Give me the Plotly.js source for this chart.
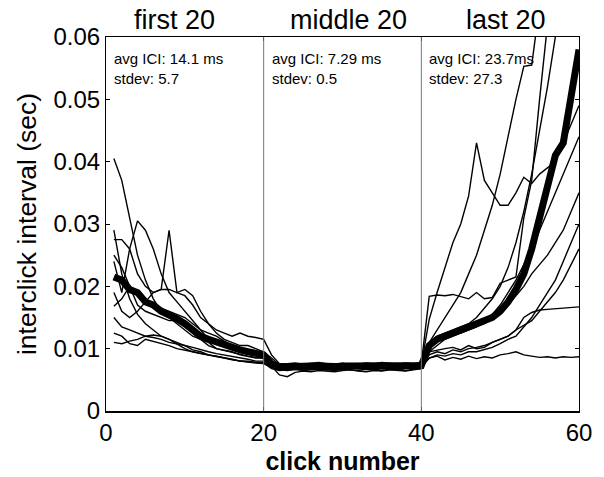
<!DOCTYPE html>
<html>
<head>
<meta charset="utf-8">
<script src="https://cdn.plot.ly/plotly-3.0.1.min.js"></script>
<style>html,body{margin:0;padding:0;background:#fff;}#chart{width:604px;height:477px;}</style>
</head>
<body>
<div id="chart"></div>
<script>
// click numbers 1..60
var clicks = [];
for (var i = 1; i <= 60; i++) clicks.push(i);

var s1 = [0.0405,0.037,0.031,0.025,0.021,0.018,0.016,0.015,0.014,0.013,0.012,0.0115,0.011,0.010,0.0098,0.0095,0.009,0.0088,0.0085,0.0085,
          0.0075,0.0068,0.0070,0.0071,0.0069,0.0070,0.0072,0.0071,0.0070,0.0069,0.0071,0.0072,0.0070,0.0071,0.0069,0.0070,0.0071,0.0070,0.0072,0.0073,
          0.011,0.013,0.015,0.017,0.019,0.022,0.025,0.029,0.033,0.038,0.044,0.050,0.0553,0.0555,0.065,0.070,0.075,0.080,0.085,0.090];
var s2 = [0.029,0.022,0.018,0.0155,0.014,0.013,0.012,0.0115,0.0108,0.010,0.0095,0.0092,0.009,0.0088,0.0085,0.0083,0.008,0.008,0.0078,0.0078,
          0.0070,0.0066,0.0065,0.0067,0.0066,0.0068,0.0067,0.0066,0.0068,0.0067,0.0069,0.0068,0.0067,0.0066,0.0068,0.0067,0.0066,0.0068,0.0069,0.0070,
          0.0085,0.0088,0.0082,0.0086,0.0083,0.0088,0.0084,0.0087,0.0085,0.009,0.0092,0.0095,0.009,0.0088,0.0086,0.0087,0.0085,0.0087,0.0086,0.0087];
var s3 = [0.024,0.019,0.026,0.0305,0.029,0.026,0.022,0.019,0.0175,0.016,0.0145,0.013,0.0115,0.011,0.0105,0.0103,0.010,0.0098,0.0095,0.009,
          0.0078,0.0072,0.0070,0.0073,0.0071,0.0072,0.0070,0.0074,0.0072,0.0071,0.0073,0.0072,0.0070,0.0074,0.0072,0.0071,0.0073,0.0072,0.0071,0.0075,
          0.0147,0.019,0.023,0.027,0.030,0.0345,0.043,0.037,0.035,0.033,0.033,0.035,0.0375,0.0365,0.038,0.039,0.040,0.043,0.046,0.049];
var s4 = [0.0275,0.0275,0.026,0.022,0.020,0.019,0.0195,0.029,0.019,0.0195,0.0185,0.016,0.014,0.0125,0.0115,0.011,0.0105,0.0105,0.010,0.0095,
          0.0085,0.0074,0.0072,0.0075,0.0073,0.0074,0.0076,0.0074,0.0073,0.0075,0.0074,0.0076,0.0073,0.0074,0.0077,0.0074,0.0073,0.0075,0.0074,0.0076,
          0.0184,0.0186,0.0185,0.0187,0.0183,0.018,0.019,0.018,0.0182,0.0205,0.021,0.0215,0.031,0.037,0.050,0.062,0.070,0.075,0.080,0.085];
var s5 = [0.025,0.023,0.020,0.017,0.016,0.0155,0.015,0.0145,0.0145,0.014,0.0125,0.0115,0.0105,0.010,0.0097,0.0093,0.009,0.0088,0.0086,0.0085,
          0.0072,0.0058,0.0055,0.0062,0.0064,0.0063,0.0065,0.0064,0.0063,0.0065,0.0066,0.0064,0.0063,0.0065,0.0064,0.0066,0.0065,0.0064,0.0066,0.0068,
          0.0095,0.0098,0.010,0.0102,0.0098,0.0105,0.010,0.0102,0.011,0.0115,0.012,0.013,0.015,0.0158,0.0162,0.0163,0.0164,0.0165,0.0166,0.0167];
var s6 = [0.011,0.0108,0.0112,0.0115,0.012,0.0122,0.012,0.0115,0.011,0.0105,0.0098,0.0095,0.009,0.0088,0.0085,0.0083,0.008,0.0078,0.0077,0.0076,
          0.0070,0.0067,0.0068,0.0069,0.0068,0.0070,0.0069,0.0068,0.0070,0.0069,0.0070,0.0069,0.0068,0.0070,0.0069,0.0068,0.0070,0.0069,0.0070,0.0071,
          0.0085,0.009,0.0088,0.0092,0.009,0.0095,0.0095,0.0098,0.0102,0.0108,0.0115,0.012,0.0135,0.015,0.017,0.019,0.021,0.024,0.027,0.030];
var s7 = [0.015,0.0135,0.013,0.0125,0.012,0.0118,0.0115,0.011,0.0108,0.0105,0.0102,0.0098,0.0095,0.0092,0.009,0.0088,0.0085,0.0083,0.008,0.008,
          0.0074,0.0071,0.0073,0.0072,0.0074,0.0073,0.0071,0.0073,0.0075,0.0072,0.0073,0.0074,0.0072,0.0073,0.0071,0.0074,0.0073,0.0072,0.0074,0.0076,
          0.010,0.0115,0.012,0.0128,0.0125,0.013,0.0135,0.014,0.015,0.016,0.017,0.0185,0.020,0.022,0.0235,0.025,0.027,0.029,0.032,0.035];
var s8 = [0.0168,0.018,0.020,0.019,0.0175,0.017,0.0165,0.016,0.0155,0.015,0.014,0.013,0.0125,0.012,0.0112,0.0105,0.010,0.0098,0.0095,0.0093,
          0.0080,0.0075,0.0076,0.0077,0.0075,0.0076,0.0078,0.0076,0.0075,0.0077,0.0076,0.0075,0.0077,0.0076,0.0078,0.0076,0.0075,0.0077,0.0076,0.0078,
          0.0095,0.0105,0.0115,0.012,0.0125,0.013,0.0135,0.0145,0.0155,0.017,0.019,0.021,0.0235,0.026,0.029,0.032,0.035,0.038,0.041,0.044];
var s9 = [0.019,0.016,0.015,0.016,0.0175,0.019,0.0195,0.0195,0.019,0.0185,0.017,0.015,0.014,0.013,0.0125,0.012,0.0125,0.012,0.0118,0.0115,
          0.0090,0.0076,0.0074,0.0073,0.0075,0.0074,0.0073,0.0075,0.0074,0.0073,0.0075,0.0074,0.0073,0.0075,0.0074,0.0073,0.0075,0.0074,0.0073,0.0074,
          0.011,0.012,0.0125,0.013,0.0135,0.014,0.015,0.0165,0.018,0.020,0.023,0.027,0.032,0.038,0.045,0.052,0.060,0.068,0.075,0.080];
var s10 = [0.0125,0.012,0.0108,0.0105,0.0115,0.0112,0.0108,0.0105,0.010,0.0098,0.0095,0.0092,0.009,0.0087,0.0085,0.0082,0.008,0.0079,0.0078,0.0077,
          0.0068,0.0065,0.0066,0.0067,0.0065,0.0066,0.0067,0.0066,0.0065,0.0067,0.0066,0.0065,0.0067,0.0066,0.0065,0.0067,0.0066,0.0065,0.0067,0.0068,
          0.009,0.0095,0.0092,0.0098,0.0095,0.010,0.0102,0.0105,0.011,0.0115,0.012,0.013,0.0138,0.0145,0.016,0.0175,0.019,0.021,0.0235,0.026];
var meanICI = [0.0215,0.021,0.0195,0.019,0.0175,0.017,0.016,0.0155,0.0148,0.014,0.013,0.012,0.0115,0.011,0.0108,0.0102,0.0098,0.0095,0.0093,0.009,
          0.0075,0.0071,0.0071,0.0072,0.0071,0.0072,0.0072,0.0071,0.0072,0.0071,0.0072,0.0072,0.0071,0.0072,0.0071,0.0072,0.0072,0.0071,0.0072,0.0073,
          0.0105,0.0115,0.012,0.0125,0.013,0.0135,0.014,0.0145,0.015,0.016,0.0175,0.0195,0.022,0.026,0.031,0.036,0.041,0.043,0.051,0.058];

var segTitles = ["first 20", "middle 20", "last 20"];
var segCenters = [8.7, 30.7, 50.8];
var segStats = ["avg ICI: 14.1 ms<br>stdev: 5.7", "avg ICI: 7.29 ms<br>stdev: 0.5", "avg ICI: 23.7ms<br>stdev: 27.3"];
var segStarts = [0, 20, 40];
var dividers = [20, 40];

var thin = [s1,s2,s3,s4,s5,s6,s7,s8,s9,s10];
var traces = thin.map(function(s){
  return {x: clicks, y: s, mode: 'lines', line: {color: '#000', width: 1.4}, showlegend: false, hoverinfo: 'skip'};
});
traces.push({x: clicks, y: meanICI, mode: 'lines', line: {color: '#000', width: 7}, showlegend: false});

var FONT = 'Liberation Sans, Arial, sans-serif';
var annotations = [];
for (var k = 0; k < 3; k++) {
  annotations.push({x: segCenters[k], y: 1, xref: 'x', yref: 'paper', yanchor: 'bottom', yshift: 0,
    text: segTitles[k], showarrow: false, font: {family: FONT, size: 27, color: '#000'}});
  annotations.push({x: segStarts[k], y: 1, xref: 'x', yref: 'paper', xanchor: 'left', yanchor: 'top', xshift: 6, yshift: -11,
    text: segStats[k], align: 'left', showarrow: false, font: {family: FONT, size: 15, color: '#000'}});
}

var shapes = dividers.map(function(d){
  return {type: 'line', xref: 'x', yref: 'paper', x0: d, x1: d, y0: 0, y1: 1, line: {color: '#777', width: 1}};
});

var layout = {
  width: 604, height: 477,
  margin: {l: 106, r: 25, t: 37, b: 66},
  paper_bgcolor: '#fff', plot_bgcolor: '#fff',
  font: {family: FONT, color: '#000'},
  xaxis: {range: [0, 60], tickvals: [0, 20, 40, 60], ticks: 'inside', ticklen: 4, tickcolor: '#000',
    showgrid: false, zeroline: false, showline: true, linecolor: '#000', linewidth: 1.5, mirror: 'ticks',
    tickfont: {size: 24}, title: {text: '<b>click number</b>', font: {size: 25}, standoff: 7}},
  yaxis: {range: [0, 0.06], tickvals: [0, 0.01, 0.02, 0.03, 0.04, 0.05, 0.06],
    ticktext: ['0', '0.01', '0.02', '0.03', '0.04', '0.05', '0.06'],
    ticks: 'inside', ticklen: 4, tickcolor: '#000',
    showgrid: false, zeroline: false, showline: true, linecolor: '#000', linewidth: 1, mirror: 'ticks',
    tickfont: {size: 24}, title: {text: 'interclick interval (sec)', font: {size: 26.5}, standoff: 9}},
  annotations: annotations,
  shapes: shapes
};

Plotly.newPlot('chart', traces, layout, {displayModeBar: false, staticPlot: true});
</script>
</body>
</html>
